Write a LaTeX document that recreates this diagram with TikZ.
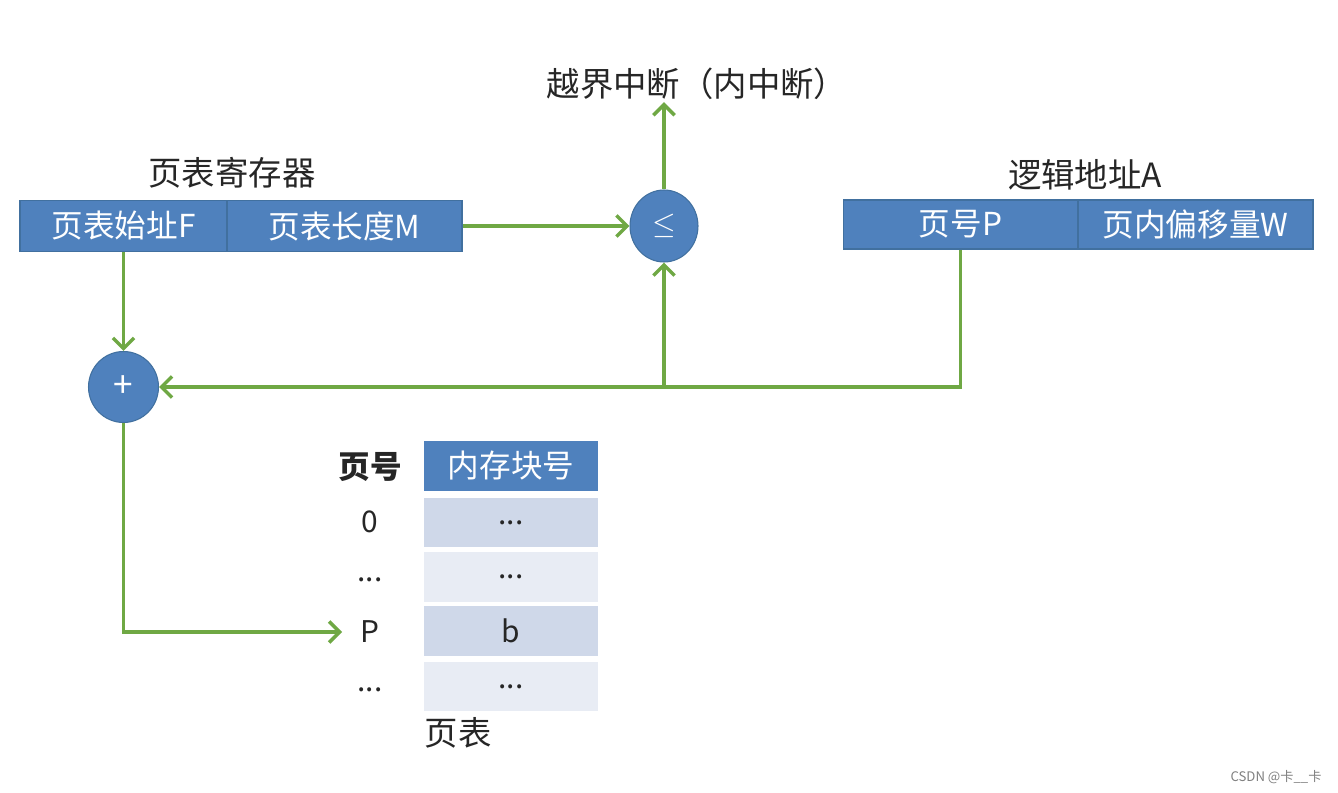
\documentclass[tikz,border=0pt]{standalone}
\usepackage{fontspec}
\setmainfont{Noto Sans CJK SC}
\usetikzlibrary{arrows.meta,shapes.geometric}
\definecolor{boxblue}{HTML}{4F81BD}
\definecolor{boxedge}{HTML}{41709F}
\definecolor{rowdark}{HTML}{CFD8E9}
\definecolor{rowlight}{HTML}{E8ECF4}
\definecolor{lineg}{HTML}{6FA844}
\definecolor{txt}{HTML}{262626}
\begin{document}
\begin{tikzpicture}[x=0.02cm,y=-0.02cm,
  cell/.style={draw=boxedge, line width=0.6pt, fill=boxblue, text=white, inner sep=0pt,
    font=\fontsize{18}{18}\selectfont, minimum height=1.02cm},
  opnode/.style={ellipse, draw=boxedge, line width=0.6pt, fill=boxblue, text=white, inner sep=0pt,
    font=\fontsize{16}{16}\selectfont},
  row/.style={inner sep=0pt, minimum width=3.48cm, minimum height=1.0cm, text=txt,
    font=\fontsize{17}{17}\selectfont},
  title/.style={text=txt, font=\fontsize{19}{19}\selectfont, inner sep=0pt},
  lab/.style={text=txt, font=\fontsize{17}{17}\selectfont, inner sep=0pt},
  conn/.style={draw=lineg, line width=2pt, -{Straight Barb[length=6pt,width=12pt,line width=2pt]}}]
\useasboundingbox (0,0) rectangle (1338,793);
\fill[white] (0,0) rectangle (1338,793);

% page table register
\node[title] (regt) at (232,173) {页表寄存器};
\node[cell, minimum width=4.14cm] (F) at (123.5,226) {页表始址F};
\node[cell, minimum width=4.70cm] (M) at (344.5,226) {页表长度M};

% logical address
\node[title] (lat) at (1085,175) {逻辑地址A};
\node[cell, minimum width=4.70cm, minimum height=0.98cm] (P) at (960.5,224.5) {页号P};
\node[cell, minimum width=4.70cm, minimum height=0.98cm] (W) at (1195.5,224.5) {页内偏移量W};

% comparator and adder
\node[opnode, minimum width=1.36cm, minimum height=1.44cm] (le) at (664,226) {$\le$};
\node[opnode, minimum width=1.40cm, minimum height=1.42cm, font=\fontsize{20}{20}\selectfont] (plus) at (123.5,387) {+};
\node[title] (intr) at (697,84) {越界中断（内中断）};

% page table
\node[cell, minimum width=3.48cm, minimum height=1.0cm, draw=none] (hdr) at (511,466) {内存块号};
\node[row, fill=rowdark]  (r0) at (511,522.5) {...};
\node[row, fill=rowlight] (r1) at (511,577) {...};
\node[row, fill=rowdark]  (r2) at (511,631) {b};
\node[row, fill=rowlight] (r3) at (511,686.5) {...};
\node[lab, font=\fontsize{18}{18}\selectfont\bfseries] (lh) at (370,467) {页号};
\node[lab] (l0) at (370,522) {0};
\node[lab] (l1) at (370,580) {...};
\node[lab] (lP) at (370,632) {P};
\node[lab] (l3) at (370,690) {...};
\node[title] (pt) at (458,733) {页表};

% connectors
\draw[conn] (M.east) -- (le.west);
\draw[conn] (le.north) -- ([yshift=-0.04cm]le.north |- intr.south);
\draw[conn] (F.south) -- (plus.north);
\coordinate (jn) at (le.south |- plus.east);
\draw[conn] (P.south) |- (plus.east);
\draw[conn] (jn) -- (le.south);
\draw[conn] (plus.south) |- ([xshift=-0.36cm]lP.west);

% watermark
\node[text=gray, font=\fontsize{7.5}{7.5}\selectfont, inner sep=0pt] (wm) at (1276,777) {CSDN @卡\_\_卡};
\end{tikzpicture}
\end{document}
